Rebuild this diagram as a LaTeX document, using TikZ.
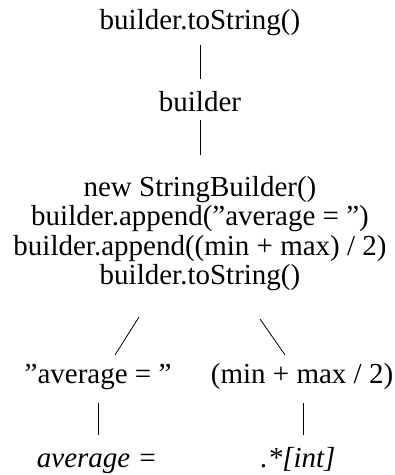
\documentclass[tikz,border=0pt]{standalone}
\usepackage{fontspec}
\setmainfont{Liberation Serif}
\usetikzlibrary{calc}
\begin{document}
\begin{tikzpicture}[x=1pt,y=-1pt,
  lbl/.style={inner sep=0pt, anchor=base, font=\fontsize{29}{29.4}\selectfont},
  edge/.style={line width=0.8pt}]
\useasboundingbox (0,0) rectangle (395,475);
\node[lbl] (top) at (200,29) {builder.toString()};
\node[lbl] (bld) at (200,111) {builder};
\node[lbl, align=center, anchor=north] (blk) at (200,176) {new StringBuilder()\\builder.append(”average = ”)\\builder.append((min + max) / 2)\\builder.toString()};
\node[lbl] (avg) at (98,383) {”average = ”};
\node[lbl] (mm) at (302,383) {(min + max / 2)};
\node[lbl, font=\fontsize{29}{29.4}\selectfont\itshape] (avgi) at (97,467) {average =};
\node[lbl, font=\fontsize{29}{29.4}\selectfont\itshape] (re) at (298,467) {.*[int]};
\draw[edge] ($(top.base)+(0,16)$) -- ($(bld.base)+(0,-32)$);
\draw[edge] ($(bld.base)+(0,9)$) -- ($(blk.north)+(0,-21)$);
\draw[edge] ($(blk.south)+(-61,26)$) -- ($(avg.base)+(17,-28)$);
\draw[edge] ($(blk.south)+(60,28)$) -- ($(mm.base)+(-17,-28)$);
\draw[edge] ($(avg.base)+(0,20)$) -- ($(avgi.base)+(1,-32)$);
\draw[edge] ($(mm.base)+(1,20)$) -- ($(re.base)+(5,-32)$);
\end{tikzpicture}
\end{document}
